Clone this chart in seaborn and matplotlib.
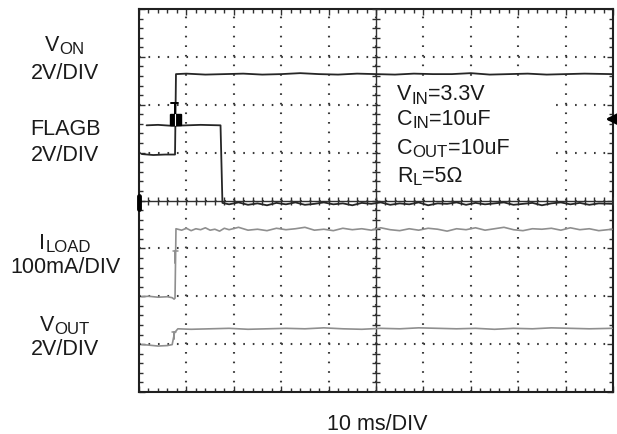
import numpy as np
import pandas as pd
import matplotlib
matplotlib.use("Agg")
import matplotlib.pyplot as plt
from matplotlib.patches import Rectangle
import seaborn as sns

# ---------------- data (time in ms, amplitude in screen divisions) -------------
von_t = [0.6, 3.0, 5.5, 7.6, 7.8, 10, 14, 18, 22, 26, 30, 34, 38, 42, 46, 50, 54,
         58, 62, 66, 70, 74, 78, 82, 86, 90, 94, 99.8]
von_v = [4.97, 4.95, 4.96, 4.96, 6.64, 6.65, 6.63, 6.64, 6.65, 6.63, 6.64, 6.66,
         6.64, 6.63, 6.65, 6.64, 6.63, 6.65, 6.64, 6.64, 6.66, 6.63, 6.64, 6.65,
         6.63, 6.64, 6.65, 6.64]

flag_t = [1.6, 4, 7, 10, 13, 17.2, 17.6, 19, 21, 23, 25, 27, 29, 31, 33, 35, 37,
          39, 41, 43, 45, 47, 49, 51, 53, 55, 57, 59, 61, 63, 65, 67, 69, 71, 73,
          75, 77, 79, 81, 83, 85, 87, 89, 91, 93, 95, 97, 99.8]
flag_v = [5.57, 5.58, 5.56, 5.57, 5.58, 5.57, 3.95, 3.92, 3.96, 3.91, 3.94, 3.90,
          3.95, 3.92, 3.96, 3.91, 3.93, 3.96, 3.92, 3.94, 3.90, 3.95, 3.93, 3.96,
          3.91, 3.94, 3.92, 3.96, 3.90, 3.94, 3.93, 3.96, 3.91, 3.95, 3.92, 3.94,
          3.96, 3.91, 3.93, 3.95, 3.90, 3.94, 3.96, 3.92, 3.95, 3.91, 3.94, 3.93]

iload_t = [0.6, 2, 4, 6, 7.0, 7.4, 7.6, 7.8, 9, 10, 11, 12, 13, 14, 15, 16, 17,
           18, 19, 21, 23, 25, 27, 29, 31, 33, 35, 37, 39, 41, 43, 45, 47, 49,
           51, 53, 55, 57, 59, 61, 63, 65, 67, 69, 71, 73, 75, 77, 79, 81, 83,
           85, 87, 89, 91, 93, 95, 97, 99.8]
iload_v = [1.99, 2.00, 1.98, 1.99, 1.97, 1.94, 1.96, 3.41, 3.38, 3.42, 3.37,
           3.41, 3.39, 3.43, 3.38, 3.40, 3.36, 3.42, 3.39, 3.44, 3.38, 3.40,
           3.37, 3.42, 3.39, 3.41, 3.44, 3.38, 3.40, 3.37, 3.42, 3.39, 3.41,
           3.38, 3.43, 3.39, 3.37, 3.41, 3.38, 3.42, 3.40, 3.36, 3.41, 3.39,
           3.43, 3.38, 3.41, 3.44, 3.39, 3.37, 3.41, 3.40, 3.42, 3.38, 3.43,
           3.39, 3.41, 3.37, 3.40]

vout_t = [0.6, 2, 4, 6, 7.0, 7.5, 8.2, 11, 15, 19, 23, 27, 31, 35, 39, 43, 47,
          51, 55, 59, 63, 67, 71, 75, 79, 83, 87, 91, 95, 99.8]
vout_v = [0.99, 0.98, 0.96, 0.97, 0.99, 1.24, 1.32, 1.31, 1.32, 1.33, 1.31,
          1.32, 1.33, 1.32, 1.34, 1.32, 1.31, 1.33, 1.32, 1.34, 1.33, 1.32,
          1.33, 1.31, 1.33, 1.32, 1.34, 1.33, 1.32, 1.33]

# labels: (main, subscript, rest)
left_labels = [("V", "ON", ""), ("2V/DIV", "", ""), ("FLAGB", "", ""),
               ("2V/DIV", "", ""), ("I", "LOAD", ""), ("100mA/DIV", "", ""),
               ("V", "OUT", ""), ("2V/DIV", "", "")]
left_label_y = [51, 79, 135, 161, 249, 273, 331, 355]   # baselines, px

cond_labels = [("V", "IN", "=3.3V"), ("C", "IN", "=10uF"),
               ("C", "OUT", "=10uF"), ("R", "L", "=5Ω")]
cond_label_y = [100, 125, 154, 182]

x_label = "10 ms/DIV"

# ---------------- style --------------------------------------------------------
sns.set_theme(style="white")
plt.rcParams["font.family"] = ["Liberation Sans", "DejaVu Sans"]

W, H = 617, 435
fig = plt.figure(figsize=(W / 100, H / 100), dpi=100)
fig.patch.set_facecolor("white")
ax = fig.add_axes([139 / W, (H - 393) / H, 474 / W, 383 / H])
ax.set_facecolor("white")

dark = "#262626"
grey = "#8f8f8f"

def trace(t, v, color, lw):
    df = pd.DataFrame({"t": t, "v": v})
    sns.lineplot(data=df, x="t", y="v", ax=ax, color=color, lw=lw,
                 estimator=None, sort=False, zorder=5)

trace(von_t, von_v, dark, 1.3)
trace(flag_t, flag_v, dark, 1.3)
trace(iload_t, iload_v, grey, 1.2)
trace(vout_t, vout_v, grey, 1.2)

ax.set_xlim(0, 100)
ax.set_ylim(0, 8)
ax.set_xlabel("")
ax.set_ylabel("")

# grid: dotted major divisions, dots every 1/5 division
ax.set_xticks(np.arange(0, 101, 10))
ax.set_yticks(np.arange(0, 9, 1))
ax.set_xticks(np.arange(0, 101, 2), minor=True)
ax.set_yticks(np.arange(0, 8.01, 0.2), minor=True)
ax.xaxis.grid(True, which="major", color="#3a3a3a", lw=1.5,
              linestyle=(0, (0.8, 3.8)))
ax.yaxis.grid(True, which="major", color="#3a3a3a", lw=1.5,
              linestyle=(0, (0.8, 3.75)))
ax.tick_params(which="both", direction="in", top=True, right=True,
               bottom=True, left=True, labelbottom=False, labelleft=False,
               color="#303030")
ax.tick_params(which="major", length=4, width=1)
ax.tick_params(which="minor", length=3, width=1)
for s in ax.spines.values():
    s.set_color("#202020")
    s.set_linewidth(1.5)

# centre cross-hair with sub-division marks
ax.axhline(4, color="#303030", lw=1.0, zorder=3)
ax.axvline(50, color="#303030", lw=1.0, zorder=3)
minor_x = np.arange(0, 100.01, 2)
minor_y = np.arange(0, 8.01, 0.2)
ax.plot(minor_x, np.full(len(minor_x), 4.0), ls="none", marker="|", ms=6,
        mew=1, color="#303030", zorder=3)
ax.plot(np.full(len(minor_y), 50.0), minor_y, ls="none", marker="_", ms=6,
        mew=1, color="#303030", zorder=3)

# white panel behind the test-condition text (hides graticule there)
ax.add_patch(Rectangle((51.8, 4.13), 36.2, 2.40, facecolor="white",
                       edgecolor="none", zorder=4))

# channel markers
ax.plot([6.7, 8.3], [6.03, 6.03], color="black", lw=1.4, zorder=6)
ax.plot([7.5, 7.5], [6.03, 5.78], color="black", lw=1.4, zorder=6)
ax.add_patch(Rectangle((6.6, 5.57), 2.3, 0.23, color="black", zorder=6))
ax.plot([7.5, 7.5], [5.57, 5.80], color="white", lw=0.8, zorder=7)
ax.plot([7.2, 8.2], [2.94, 2.94], color=grey, lw=1.1, zorder=6)
ax.plot([7.7, 7.7], [2.94, 2.70], color=grey, lw=1.4, zorder=6)
ax.plot([6.9, 7.9], [1.25, 1.25], color=grey, lw=1.1, zorder=6)
ax.plot([7.4, 7.4], [1.25, 1.10], color=grey, lw=1.4, zorder=6)

# ground marker on left edge and trigger arrow on right edge
ax.plot([0, 0], [3.82, 4.09], color="black", lw=3.5, clip_on=False, zorder=8)
ax.annotate("", xy=(98.4, 5.70), xytext=(99.9, 5.70),
            arrowprops=dict(arrowstyle="-|>,head_width=0.3,head_length=0.6",
                            color="black", lw=2.0, shrinkA=0, shrinkB=0),
            zorder=8)

# text with hand-placed subscripts
fs = 15.5
sub_fs = fs * 0.78
txt_col = "#1a1a1a"
fig.canvas.draw()
renderer = fig.canvas.get_renderer()

def width_px(s, size):
    if not s:
        return 0.0
    t = fig.text(0, 0, s, fontsize=size)
    w = t.get_window_extent(renderer).width
    t.remove()
    return w

def put(main, sub, rest, x, ybase, align):
    wm = width_px(main, fs)
    ws = width_px(sub, sub_fs)
    wr = width_px(rest, fs)
    total = wm + ws + wr
    x0 = x - total / 2 if align == "center" else x
    y = H - ybase
    fig.text(x0 / W, y / H, main, fontsize=fs, color=txt_col,
             ha="left", va="baseline")
    if sub:
        fig.text((x0 + wm) / W, (y - 3.5) / H, sub, fontsize=sub_fs,
                 color=txt_col, ha="left", va="baseline")
    if rest:
        fig.text((x0 + wm + ws) / W, y / H, rest, fontsize=fs,
                 color=txt_col, ha="left", va="baseline")

for (m, s, r), y in zip(left_labels, left_label_y):
    put(m, s, r, 65, y, "center")
for (m, s, r), y in zip(cond_labels, cond_label_y):
    put(m, s, r, 397, y, "left")
fig.text(377 / W, 1 - 430 / H, x_label, ha="center", va="baseline",
         fontsize=fs, color=txt_col)

fig.savefig("out.png", dpi=100, facecolor="white")
